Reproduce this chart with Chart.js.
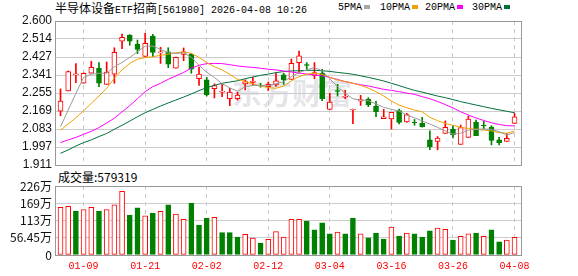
<!DOCTYPE html>
<html>
<head>
<meta charset="utf-8">
<style>
	body { margin: 0; width: 578px; height: 276px; background: #fff; position: relative; overflow: hidden; font-family: 'Liberation Mono', monospace; color: #000; }
	.cjk { font-family: 'Noto Sans CJK SC', sans-serif; font-size: 12px; }
	#title { position: absolute; left: 55px; top: 1px; font-size: 10px; line-height: 14px; white-space: nowrap; }
	.legend-item { position: absolute; top: 1px; font-size: 10px; line-height: 14px; white-space: nowrap; }
	.legend-item i { display: inline-block; width: 6px; height: 4px; margin-left: 2px; vertical-align: 1px; }
	#vol-title { position: absolute; left: 58px; top: 169px; font-family: 'Noto Sans CJK SC', sans-serif; font-size: 12px; line-height: 16px; }
	#price-box { position: absolute; left: 0; top: 0; width: 578px; height: 170px; }
	#volume-box { position: absolute; left: 0; top: 170px; width: 578px; height: 106px; }
</style>
<script src="https://cdn.jsdelivr.net/npm/chart.js@4.4.0/dist/chart.umd.min.js"></script>
</head>
<body>
<div id="title"><span class="cjk">半导体设备</span>ETF<span class="cjk">招商</span>[561980] 2026-04-08 10:26</div>
<div class="legend-item" style="left:338px">5PMA<i style="background:#a6a6a6"></i></div>
<div class="legend-item" style="left:380px">10PMA<i style="background:#f0a000"></i></div>
<div class="legend-item" style="left:425px">20PMA<i style="background:#ff00ff"></i></div>
<div class="legend-item" style="left:472px">30PMA<i style="background:#00703a"></i></div>
<div id="vol-title">成交量:579319</div>
<div id="price-box"><canvas id="price-chart" width="578" height="170"></canvas></div>
<div id="volume-box"><canvas id="volume-chart" width="578" height="106"></canvas></div>
<script>
const dates = ['01-06', '01-07', '01-08', '01-09', '01-12', '01-13', '01-14', '01-15', '01-16', '01-19',
	'01-20', '01-21', '01-22', '01-23', '01-26', '01-27', '01-28', '01-29', '01-30', '02-02',
	'02-03', '02-04', '02-05', '02-06', '02-09', '02-10', '02-11', '02-12', '02-13', '02-24',
	'02-25', '02-26', '02-27', '03-02', '03-03', '03-04', '03-05', '03-06', '03-09', '03-10',
	'03-11', '03-12', '03-13', '03-16', '03-17', '03-18', '03-19', '03-20', '03-23', '03-24',
	'03-25', '03-26', '03-27', '03-30', '03-31', '04-01', '04-02', '04-03', '04-07', '04-08'];
const labelIdx = [3, 11, 19, 27, 35, 43, 51, 59];

const opens = [2.169, 2.265, 2.342, 2.302, 2.350, 2.374, 2.297, 2.345, 2.503, 2.533,
	2.490, 2.431, 2.528, 2.448, 2.453, 2.374, 2.440, 2.440, 2.324, 2.318,
	2.276, 2.259, 2.228, 2.228, 2.299, 2.306, 2.292, 2.286, 2.294, 2.342,
	2.321, 2.401, 2.391, 2.340, 2.350, 2.177, 2.267, 2.235, 2.174, 2.217,
	2.227, 2.193, 2.133, 2.131, 2.171, 2.117, 2.115, 2.110, 2.031, 2.024,
	2.062, 2.082, 2.010, 2.043, 2.115, 2.101, 2.093, 2.031, 2.024, 2.110];
const highs = [2.275, 2.361, 2.396, 2.352, 2.407, 2.401, 2.404, 2.472, 2.538, 2.535,
	2.509, 2.541, 2.536, 2.474, 2.472, 2.427, 2.471, 2.445, 2.380, 2.330,
	2.299, 2.297, 2.278, 2.259, 2.318, 2.330, 2.302, 2.308, 2.350, 2.350,
	2.418, 2.456, 2.401, 2.401, 2.369, 2.254, 2.297, 2.268, 2.179, 2.244,
	2.233, 2.216, 2.177, 2.163, 2.179, 2.158, 2.129, 2.139, 2.074, 2.047,
	2.122, 2.099, 2.102, 2.145, 2.126, 2.120, 2.099, 2.043, 2.062, 2.158];
const lows = [2.147, 2.265, 2.305, 2.302, 2.350, 2.286, 2.297, 2.302, 2.468, 2.484,
	2.444, 2.431, 2.429, 2.397, 2.377, 2.374, 2.410, 2.350, 2.292, 2.241,
	2.232, 2.238, 2.195, 2.222, 2.270, 2.294, 2.283, 2.267, 2.287, 2.297,
	2.321, 2.350, 2.369, 2.324, 2.219, 2.177, 2.241, 2.228, 2.109, 2.196,
	2.190, 2.142, 2.133, 2.083, 2.107, 2.115, 2.101, 2.092, 1.984, 1.984,
	2.062, 2.040, 2.010, 2.043, 2.051, 2.085, 2.007, 2.007, 2.024, 2.110];
const closes = [2.217, 2.358, 2.347, 2.350, 2.378, 2.302, 2.356, 2.450, 2.522, 2.503,
	2.464, 2.493, 2.450, 2.452, 2.393, 2.426, 2.453, 2.369, 2.346, 2.246,
	2.291, 2.265, 2.260, 2.246, 2.310, 2.313, 2.289, 2.297, 2.314, 2.318,
	2.397, 2.433, 2.388, 2.353, 2.228, 2.212, 2.263, 2.240, 2.177, 2.224,
	2.200, 2.166, 2.142, 2.163, 2.115, 2.152, 2.112, 2.094, 1.999, 2.040,
	2.091, 2.055, 2.090, 2.131, 2.051, 2.098, 2.029, 2.018, 2.039, 2.142];
// close of the day before the first bar, only used for the first volume colour
const prevClose = 2.16;

const volumes = [1560000, 1590000, 1440000, 1490000, 1560000, 1440000, 1490000, 1640000, 2080000, 1310000,
	1540000, 1280000, 1370000, 1430000, 1640000, 1340000, 1170000, 1700000, 980000, 1210000,
	1230000, 730000, 730000, 590000, 680000, 550000, 390000, 510000, 770000, 590000,
	1170000, 1170000, 1110000, 820000, 1050000, 690000, 750000, 690000, 1210000, 690000,
	560000, 720000, 520000, 910000, 620000, 720000, 690000, 590000, 790000, 880000,
	840000, 490000, 610000, 690000, 720000, 610000, 820000, 430000, 490000, 579319];

const ma5 = [2.094, 2.174, 2.254, 2.330, 2.345, 2.350, 2.350, 2.381, 2.402, 2.426,
	2.452, 2.480, 2.480, 2.464, 2.448, 2.445, 2.448, 2.426, 2.388, 2.355,
	2.330, 2.300, 2.280, 2.264, 2.285, 2.292, 2.290, 2.290, 2.300, 2.310,
	2.334, 2.354, 2.366, 2.377, 2.362, 2.323, 2.286, 2.254, 2.228, 2.222,
	2.219, 2.203, 2.187, 2.177, 2.169, 2.150, 2.137, 2.122, 2.107, 2.091,
	2.074, 2.059, 2.063, 2.078, 2.082, 2.083, 2.082, 2.070, 2.055, 2.066];
const ma10 = [2.078, 2.107, 2.137, 2.171, 2.206, 2.241, 2.278, 2.326, 2.366, 2.397,
	2.417, 2.425, 2.429, 2.436, 2.441, 2.448, 2.452, 2.445, 2.426, 2.401,
	2.381, 2.366, 2.345, 2.321, 2.310, 2.299, 2.289, 2.281, 2.278, 2.289,
	2.313, 2.334, 2.346, 2.350, 2.345, 2.330, 2.318, 2.310, 2.302, 2.292,
	2.279, 2.262, 2.241, 2.217, 2.198, 2.185, 2.174, 2.165, 2.139, 2.123,
	2.110, 2.101, 2.091, 2.086, 2.082, 2.078, 2.074, 2.066, 2.063, 2.074];
const ma20 = [2.018, 2.031, 2.043, 2.058, 2.072, 2.090, 2.112, 2.135, 2.165, 2.195,
	2.228, 2.262, 2.286, 2.302, 2.321, 2.337, 2.354, 2.374, 2.388, 2.396,
	2.397, 2.396, 2.391, 2.385, 2.381, 2.378, 2.374, 2.369, 2.366, 2.361,
	2.356, 2.351, 2.346, 2.342, 2.337, 2.330, 2.320, 2.310, 2.302, 2.295,
	2.289, 2.281, 2.273, 2.268, 2.262, 2.255, 2.249, 2.238, 2.228, 2.215,
	2.200, 2.184, 2.166, 2.150, 2.136, 2.124, 2.113, 2.105, 2.099, 2.098];
const ma30 = [1.967, 1.983, 2.002, 2.018, 2.031, 2.047, 2.062, 2.082, 2.101, 2.121,
	2.142, 2.161, 2.177, 2.193, 2.208, 2.222, 2.236, 2.251, 2.267, 2.281,
	2.292, 2.302, 2.308, 2.314, 2.324, 2.332, 2.340, 2.346, 2.353, 2.358,
	2.361, 2.362, 2.364, 2.364, 2.362, 2.359, 2.354, 2.350, 2.345, 2.338,
	2.330, 2.322, 2.313, 2.302, 2.291, 2.279, 2.268, 2.260, 2.250, 2.241,
	2.233, 2.224, 2.214, 2.206, 2.198, 2.190, 2.182, 2.175, 2.168, 2.161];

const priceLabels = ['1.911', '1.997', '2.083', '2.169', '2.255', '2.341', '2.427', '2.514', '2.600'];
const volTicks = [0, 564500, 1129000, 1693500, 2258000];
const volLabels = ['0', '56.45万', '113万', '169万', '226万'];

const RED = '#ff0000';
const GREEN = '#008000';
const X_MIN = -0.715;
const X_MAX = 59.97;

function isUp(i) {
	return closes[i] >= opens[i];
}

function volUp(i) {
	const before = i === 0 ? prevClose : closes[i - 1];
	return closes[i] >= before;
}

function toPoints(values) {
	return values.map((v, i) => ({ x: i, y: v }));
}

// grey frame round the plot area
const frame = {
	id: 'frame',
	afterDraw(chart) {
		const { ctx, chartArea } = chart;
		ctx.save();
		ctx.strokeStyle = '#999';
		ctx.lineWidth = 1;
		ctx.strokeRect(Math.round(chartArea.left) + 0.5, Math.round(chartArea.top) + 0.5,
			Math.round(chartArea.right - chartArea.left) - 1, Math.round(chartArea.bottom - chartArea.top));
		ctx.restore();
	}
};

const watermark = {
	id: 'watermark',
	beforeDatasetsDraw(chart) {
		const { ctx } = chart;
		ctx.save();
		ctx.font = 'bold 30px "Noto Sans CJK SC"';
		ctx.fillStyle = 'rgba(205, 205, 215, 0.55)';
		ctx.textAlign = 'center';
		ctx.textBaseline = 'middle';
		ctx.fillText('东方财富', 292, 93);
		ctx.restore();
	}
};

function dateAxis(showLabels) {
	return {
		type: 'linear',
		min: X_MIN,
		max: X_MAX,
		offset: false,
		afterBuildTicks(scale) {
			scale.ticks = labelIdx.map((v) => ({ value: v }));
		},
		afterFit(scale) {
			scale.height = showLabels ? 21 : 0;
		},
		grid: { color: '#c8c8c8', drawTicks: false, offset: false },
		border: { display: false, dash: [4, 4] },
		ticks: {
			display: showLabels,
			autoSkip: false,
			maxRotation: 0,
			padding: 5,
			color: RED,
			font: { family: 'Liberation Mono', size: 10 },
			callback: (value) => dates[value]
		}
	};
}

function valueAxis(min, max, tickValues, tickLabels, font) {
	return {
		min: min,
		max: max,
		afterBuildTicks(scale) {
			scale.ticks = tickValues.map((v) => ({ value: v }));
		},
		afterFit(scale) {
			scale.width = 55;
			scale.paddingTop = 0;
			scale.paddingBottom = 0;
		},
		grid: { color: '#cccccc', drawTicks: false },
		border: { display: false },
		ticks: {
			autoSkip: false,
			padding: 3,
			color: '#111',
			font: font,
			callback: (value, index) => tickLabels[index]
		}
	};
}

function renderPriceChart() {
	const canvas = document.getElementById('price-chart');

	const lineSet = (label, values, color) => ({
		type: 'line',
		label: label,
		data: toPoints(values),
		borderColor: color,
		borderWidth: 1,
		pointRadius: 0,
		tension: 0,
		order: 0
	});

	new Chart(canvas, {
		type: 'bar',
		data: {
			datasets: [
				lineSet('5PMA', ma5, '#9a9a9a'),
				lineSet('10PMA', ma10, '#f0a000'),
				lineSet('20PMA', ma20, '#ff00ff'),
				lineSet('30PMA', ma30, '#00703a'),
				{
					label: 'body',
					data: dates.map((d, i) => ({ x: i, y: [opens[i], closes[i]] })),
					barThickness: 5,
					grouped: false,
					borderWidth: 1,
					borderSkipped: false,
					borderColor: (ctx) => (isUp(ctx.dataIndex) ? RED : GREEN),
					backgroundColor: (ctx) => (isUp(ctx.dataIndex) ? '#ffffff' : GREEN),
					order: 1
				},
				{
					label: 'wick',
					data: dates.map((d, i) => ({ x: i, y: [lows[i], highs[i]] })),
					barThickness: 1,
					grouped: false,
					borderWidth: 0,
					backgroundColor: (ctx) => (isUp(ctx.dataIndex) ? RED : GREEN),
					order: 2
				}
			]
		},
		options: {
			responsive: false,
			animation: false,
			devicePixelRatio: 1,
			layout: { padding: { left: 0, right: 56, top: 21, bottom: 5 } },
			plugins: { legend: { display: false }, tooltip: { enabled: false } },
			scales: {
				x: dateAxis(false),
				y: valueAxis(1.911, 2.6, priceLabels.map((t) => parseFloat(t)), priceLabels,
					{ family: 'Liberation Sans', size: 12 })
			}
		},
		plugins: [watermark, frame]
	});
}

function renderVolumeChart() {
	const canvas = document.getElementById('volume-chart');

	new Chart(canvas, {
		type: 'bar',
		data: {
			datasets: [
				{
					label: 'volume',
					data: volumes.map((v, i) => ({ x: i, y: v })),
					barThickness: 5,
					borderWidth: 1,
					borderSkipped: false,
					borderColor: (ctx) => (volUp(ctx.dataIndex) ? RED : GREEN),
					backgroundColor: (ctx) => (volUp(ctx.dataIndex) ? '#ffffff' : GREEN)
				}
			]
		},
		options: {
			responsive: false,
			animation: false,
			devicePixelRatio: 1,
			layout: { padding: { left: 0, right: 56, top: 16, bottom: 0 } },
			plugins: { legend: { display: false }, tooltip: { enabled: false } },
			scales: {
				x: dateAxis(true),
				y: valueAxis(0, 2258000, volTicks, volLabels, { family: 'Noto Sans CJK SC', size: 12 })
			}
		},
		plugins: [frame]
	});
}

renderPriceChart();
renderVolumeChart();
</script>
</body>
</html>
